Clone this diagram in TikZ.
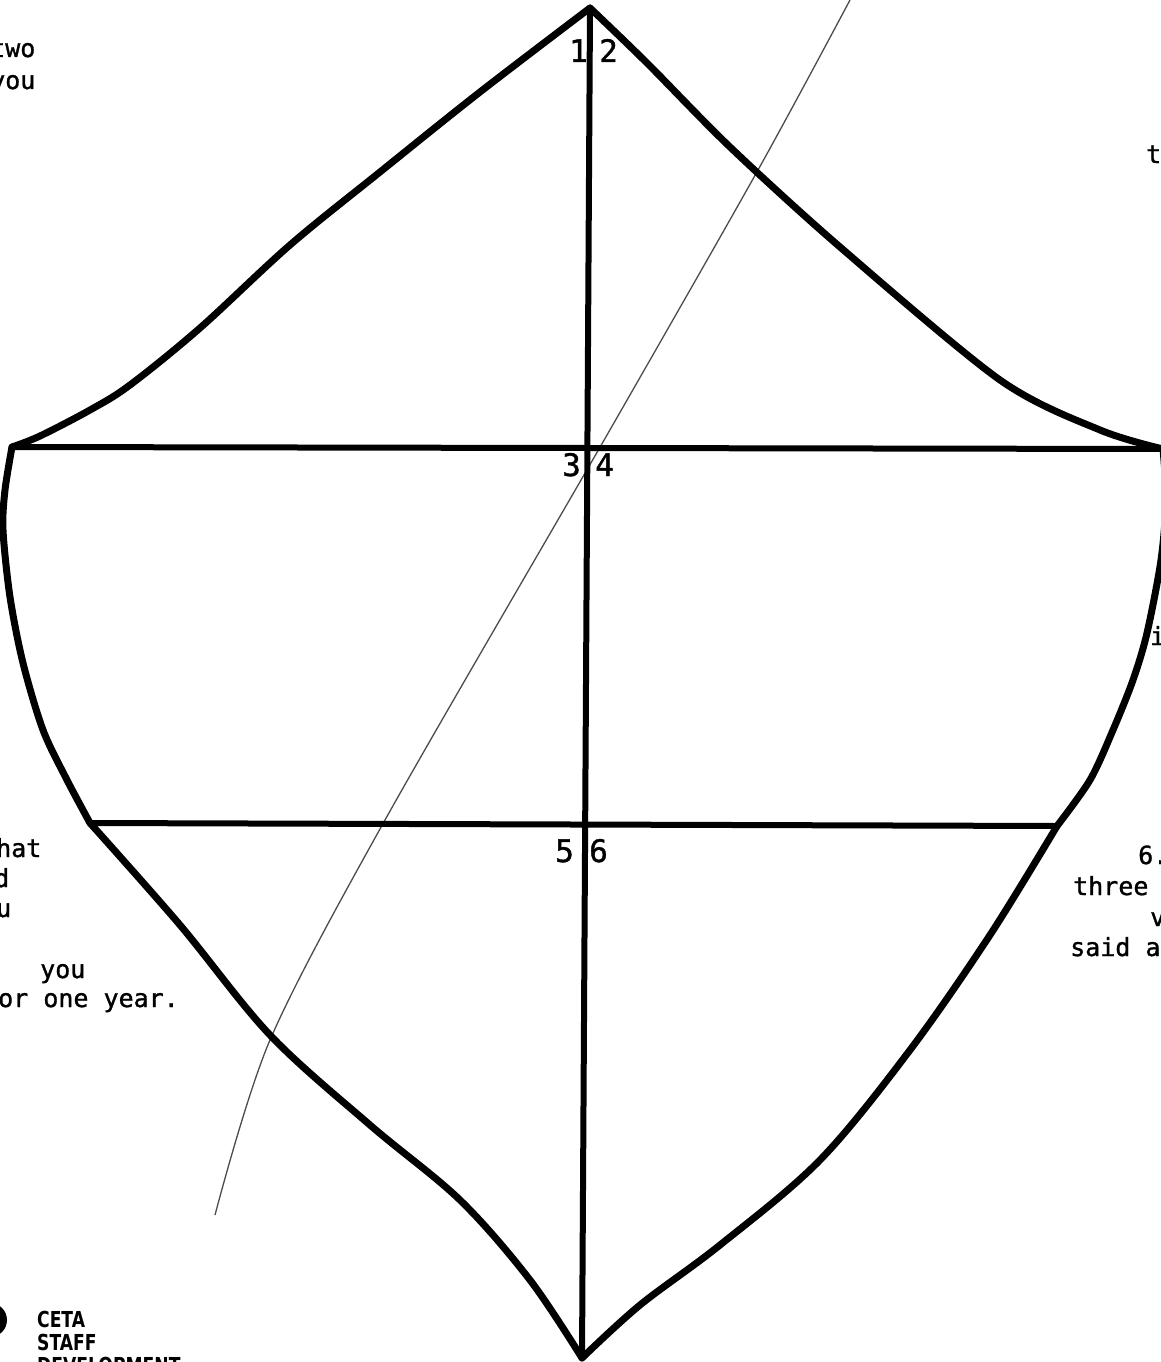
\documentclass[tikz,border=0pt]{standalone}
\usepackage{fontspec}
\newfontfamily\typew[FakeBold=1.2]{DejaVu Sans Mono}
\newfontfamily\headfont{DejaVu Sans}
\begin{document}
\begin{tikzpicture}[x=1pt,y=-1pt,
  edge/.style={line width=7pt, line join=round, line cap=round},
  rule/.style={line width=6pt, line cap=round},
  thin/.style={line width=1.3pt, black!70},
  txt/.style={anchor=base west, inner sep=0pt, font=\typew\fontsize{25}{30}\selectfont},
  num/.style={anchor=base west, inner sep=0pt, font=\typew\fontsize{31}{36}\selectfont},
  logo/.style={anchor=base west, inner sep=0pt, font=\headfont\bfseries\fontsize{22}{24}\selectfont, xscale=0.78}]
\useasboundingbox (0,0) rectangle (1160,1362);
\fill[white] (0,0) rectangle (1160,1362);

% key points
\coordinate (apex) at (590,8);
\coordinate (lc) at (12,447);
\coordinate (rc) at (1163,449);
\coordinate (lm) at (90,823);
\coordinate (rm) at (1057,826);
\coordinate (bot) at (582,1358);

% thin crossing line
\draw[thin] plot[smooth, tension=0.5] coordinates {(850,0) (758,170) (607,435) (385,820) (270,1040) (215,1215)};

% shield outline
\draw[edge] plot[smooth, tension=0.55] coordinates {(590,8) (480,92) (380,172) (290,245) (200,328) (130,385) (90,410) (40,436) (12,447)};
\draw[edge] plot[smooth, tension=0.5] coordinates {(590,8) (647,63) (730,147) (840,247) (1000,380) (1100,430) (1163,449)};
\draw[edge] plot[smooth, tension=0.5] coordinates {(12,447) (5,490) (3,530) (10,597) (23,663) (43,730) (67,780) (90,823)};
\draw[edge] plot[smooth, tension=0.5] coordinates {(1163,449) (1166,500) (1161,560) (1147,633) (1133,680) (1113,730) (1090,780) (1057,826)};
\draw[edge] plot[smooth, tension=0.55] coordinates {(90,823) (180,925) (270,1035) (370,1125) (460,1200) (530,1280) (582,1358)};
\draw[edge] plot[smooth, tension=0.55] coordinates {(1057,826) (990,935) (910,1050) (820,1160) (720,1245) (640,1305) (582,1358)};

% inner rules
\draw[rule] (apex) -- (bot);
\draw[rule] (lc) -- (rc);
\draw[rule] (lm) -- (rm);

% section numbers
\node[num] (n1) at (569,62) {1};
\node[num] (n2) at (599,62) {2};
\node[num] (n3) at (562,476) {3};
\node[num] (n4) at (595,476) {4};
\node[num] (n5) at (555,862) {5};
\node[num] (n6) at (589,862) {6};

% margin text (cut off at page edges)
\node[txt] (t1) at (-10,57) {two};
\node[txt] (t2) at (-10,89) {you};
\node[txt] (t3) at (1146,163) {t};
\node[txt] (t4) at (1150,645) {i};
\node[txt] (t5) at (-4,857) {hat};
\node[txt] (t6) at (-6,887) {d};
\node[txt] (t7) at (-4,917) {u};
\node[txt] (t8) at (40,978) {you};
\node[txt] (t9) at (-2,1007) {or one year.};
\node[txt] (t10) at (1138,864) {6.};
\node[txt] (t11) at (1073,895) {three};
\node[txt] (t12) at (1150,926) {v};
\node[txt] (t13) at (1070,956) {said a};

% logo
\fill (-10,1320) circle (17);
\node[logo] (l1) at (37,1327) {CETA};
\node[logo] (l2) at (37,1350) {STAFF};
\node[logo] (l3) at (37,1373) {DEVELOPMENT};
\end{tikzpicture}
\end{document}
